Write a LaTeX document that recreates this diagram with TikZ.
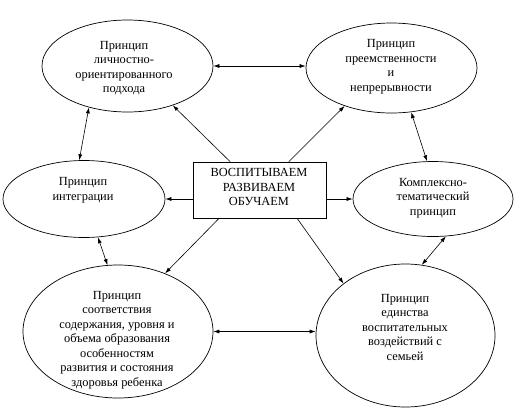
\documentclass[tikz,border=0pt]{standalone}
\usepackage{fontspec}
\setmainfont{Liberation Serif}
\usetikzlibrary{shapes.geometric,arrows.meta}
\tikzset{
ELL/.style={draw=black,ellipse,line width=0.7pt,inner sep=0pt},
BOX/.style={draw=black,rectangle,line width=0.7pt,inner sep=0pt,minimum width=133pt,minimum height=56pt},
TXT/.style={align=center,inner sep=0pt,font=\fontsize{12.4}{14.5}\selectfont},
ARR/.style={line width=0.6pt,-{Latex[length=6pt,width=4pt]}},
DARR/.style={line width=0.6pt,{Latex[length=6pt,width=4pt]}-{Latex[length=6pt,width=4pt]}},
}

\begin{document}
\begin{tikzpicture}[x=1pt,y=-1pt]
	\useasboundingbox (0,0) rectangle (522,416);
	%Centre
	\node[BOX] (vospit) at (259.5,190) {};
	\node[TXT] (vospit-t) at (259,187) {ВОСПИТЫВАЕМ\\РАЗВИВАЕМ\\ОБУЧАЕМ};
	%Principles
	\node[ELL,minimum width=171pt,minimum height=92pt] (lich) at (127.5,66) {};
	\node[TXT] (lich-t) at (124,68) {Принцип\\личностно-\\ориентированного\\подхода};
	\node[ELL,minimum width=171pt,minimum height=90pt] (preem) at (391.5,68) {};
	\node[TXT] (preem-t) at (391,67) {Принцип\\преемственности\\и\\непрерывности};
	\node[ELL,minimum width=162pt,minimum height=77pt] (integr) at (84,199) {};
	\node[TXT] (integr-t) at (83,190.5) {Принцип\\интеграции};
	\node[ELL,minimum width=160pt,minimum height=75pt] (kompl) at (433,199) {};
	\node[TXT] (kompl-t) at (433,198) {Комплексно-\\тематический\\принцип};
	\node[ELL,minimum width=190pt,minimum height=133pt] (sootv) at (118,331.5) {};
	\node[TXT] (sootv-t) at (117,340) {Принцип\\соответствия\\содержания, уровня и\\объема образования\\особенностям\\развития и состояния\\здоровья ребенка};
	\node[ELL,minimum width=179pt,minimum height=143pt] (edin) at (405.5,335.5) {};
	\node[TXT] (edin-t) at (405,327) {Принцип\\единства\\воспитательных\\воздействий с\\семьей};
	%From the centre
	\draw[ARR] (vospit.136) -- (lich.-41);
	\draw[ARR] (vospit.44) -- (preem.-141);
	\draw[ARR] (vospit.west |- integr.east) -- (integr.east);
	\draw[ARR] (vospit.east |- kompl.west) -- (kompl.west);
	\draw[ARR] (vospit.-145) -- (sootv.51);
	\draw[ARR] (vospit.-37) -- (edin.140);
	%Between the principles
	\draw[DARR] (lich.east) -- (lich.east -| preem.west);
	\draw[DARR] (sootv.east) -- (sootv.east -| edin.west);
	\draw[DARR] (lich.-133) -- (integr.97);
	\draw[DARR] (integr.-70) -- (sootv.99);
	\draw[DARR] (preem.-66) -- (kompl.99);
	\draw[DARR] (kompl.-71) -- (edin.77);
\end{tikzpicture}
\end{document}
